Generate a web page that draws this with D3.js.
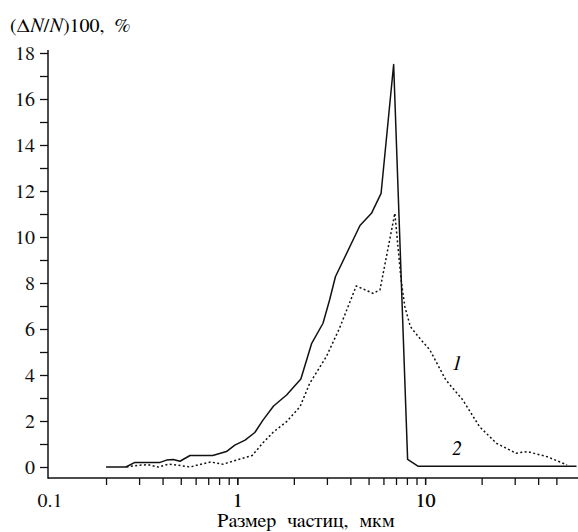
<!DOCTYPE html>
<html>
<head>
<meta charset="utf-8">
<script src="https://cdn.jsdelivr.net/npm/d3@7"></script>
<style>
  body { margin: 0; background: #fff; }
</style>
</head>
<body>
<div id="chart"></div>
<script>
// curve 1 (dotted) and curve 2 (solid): particle size, um -> (dN/N)100, %
const size1 = [0.257, 0.3, 0.335, 0.38, 0.43, 0.48, 0.56, 0.72, 0.84, 0.99, 1.2, 1.37, 1.56, 1.83, 2.16, 2.43, 2.98, 3.5, 4.3, 5.29, 5.75, 6.9, 7.45, 7.8, 8.35, 9.2, 10.6, 12.9, 15.9, 19.5, 24, 30.5, 34.9, 44.6, 57];
const val1  = [0, 0.08, 0.1, 0, 0.12, 0.08, 0, 0.22, 0.12, 0.3, 0.5, 1.05, 1.53, 1.97, 2.63, 3.64, 4.8, 6.03, 7.87, 7.55, 7.7, 11.03, 8.13, 6.97, 6.1, 5.67, 5.09, 3.78, 2.91, 1.75, 1.03, 0.6, 0.67, 0.45, 0.09];

const size2 = [0.2, 0.255, 0.285, 0.388, 0.42, 0.456, 0.495, 0.56, 0.74, 0.875, 0.97, 1.1, 1.24, 1.37, 1.56, 1.83, 2.18, 2.49, 2.86, 3.1, 3.33, 4.5, 5.18, 5.83, 6.8, 8.07, 9.2, 64];
const val2  = [0, 0, 0.2, 0.2, 0.3, 0.33, 0.25, 0.5, 0.5, 0.67, 0.95, 1.17, 1.5, 2.04, 2.65, 3.13, 3.83, 5.38, 6.25, 7.26, 8.27, 10.5, 11.03, 11.9, 17.5, 0.33, 0.03, 0.03];

const yTicks = d3.range(0, 19, 1);
const yLabels = [0, 2, 4, 6, 8, 10, 12, 14, 16, 18];
const xTicks = [0.2, 0.3, 0.4, 0.5, 0.6, 0.7, 0.8, 0.9, 1, 2, 3, 4, 5, 6, 7, 8, 9, 10, 20, 30, 40, 50];
const xLabels = [0.1, 1, 10];

const width = 578, height = 532;
const axisX = 48, axisY = 478;
const serif = "FreeSerif, \"Liberation Serif\", \"Times New Roman\", serif";

const svg = d3.select("#chart").append("svg")
    .attr("width", width)
    .attr("height", height)
    .attr("font-family", serif);

// scales
const xScale = d3.scaleLog()
    .domain([0.1, 65])
    .range([49.5, 49.5 + 187.8 * Math.log10(650)]);

const yScale = d3.scaleLinear()
    .domain([0, 18])
    .range([467, 53]);

// y axis
const leftAxis = d3.axisLeft(yScale)
    .tickValues(yTicks)
    .tickSize(8)
    .tickPadding(5)
    .tickFormat(d => yLabels.includes(d) ? d : "");
const gy = svg.append("g")
    .attr("class", "y-axis")
    .attr("transform", `translate(${axisX},0)`)
    .call(leftAxis);
gy.select(".domain").remove();
gy.append("line")
    .attr("x1", 0).attr("x2", 0)
    .attr("y1", 50).attr("y2", axisY + 0.75)
    .attr("stroke", "#111").attr("stroke-width", 1.5);

// x axis
const bottomAxis = d3.axisBottom(xScale)
    .tickValues(xTicks.concat(xLabels))
    .tickSize(7)
    .tickPadding(8)
    .tickFormat(d => xLabels.includes(d) ? d : "");
const gx = svg.append("g")
    .attr("class", "x-axis")
    .attr("transform", `translate(0,${axisY})`)
    .call(bottomAxis);
gx.select(".domain").remove();
gx.selectAll(".tick").filter(d => d === 0.1).select("line").remove();
gx.append("line")
    .attr("x1", axisX).attr("x2", width)
    .attr("y1", 0).attr("y2", 0)
    .attr("stroke", "#111").attr("stroke-width", 1.5);

svg.selectAll(".tick line").attr("stroke", "#111").attr("stroke-width", 1.3);
gx.attr("font-family", serif).attr("font-size", null);
gy.attr("font-family", serif).attr("font-size", null);
svg.selectAll(".x-axis text, .y-axis text")
    .style("font-family", serif)
    .style("font-size", "20px")
    .style("fill", "#111");
gy.selectAll("text").attr("dy", "0.34em");

// curves
const line = d3.line()
    .x(d => xScale(d[0]))
    .y(d => yScale(d[1]));

svg.append("path")
    .datum(size2.map((s, i) => [s, val2[i]]))
    .attr("fill", "none")
    .attr("stroke", "#111")
    .attr("stroke-width", 1.5)
    .attr("stroke-linejoin", "round")
    .attr("d", line);

svg.append("path")
    .datum(size1.map((s, i) => [s, val1[i]]))
    .attr("fill", "none")
    .attr("stroke", "#111")
    .attr("stroke-width", 1.5)
    .attr("stroke-dasharray", "2,2.4")
    .attr("d", line);

// curve labels
svg.append("text")
    .attr("x", 457).attr("y", 370)
    .attr("text-anchor", "middle")
    .style("font-family", serif)
    .style("font-size", "20px")
    .style("font-style", "italic")
    .text("1");
svg.append("text")
    .attr("x", 457).attr("y", 455)
    .attr("text-anchor", "middle")
    .style("font-family", serif)
    .style("font-size", "20px")
    .style("font-style", "italic")
    .text("2");

// y axis title
const yt = svg.append("text")
    .attr("x", 10).attr("y", 32)
    .style("font-family", serif)
    .style("font-size", "20px");
yt.append("tspan").text("(Δ");
yt.append("tspan").style("font-style", "italic").text("N");
yt.append("tspan").text("/");
yt.append("tspan").style("font-style", "italic").text("N");
yt.append("tspan").text(")100,\u00a0\u00a0%");

// x axis title
svg.append("text")
    .attr("x", 306).attr("y", 527)
    .attr("text-anchor", "middle")
    .style("font-family", serif)
    .style("font-size", "20px")
    .style("word-spacing", "6px")
    .text("Размер частиц, мкм");
</script>
</body>
</html>
